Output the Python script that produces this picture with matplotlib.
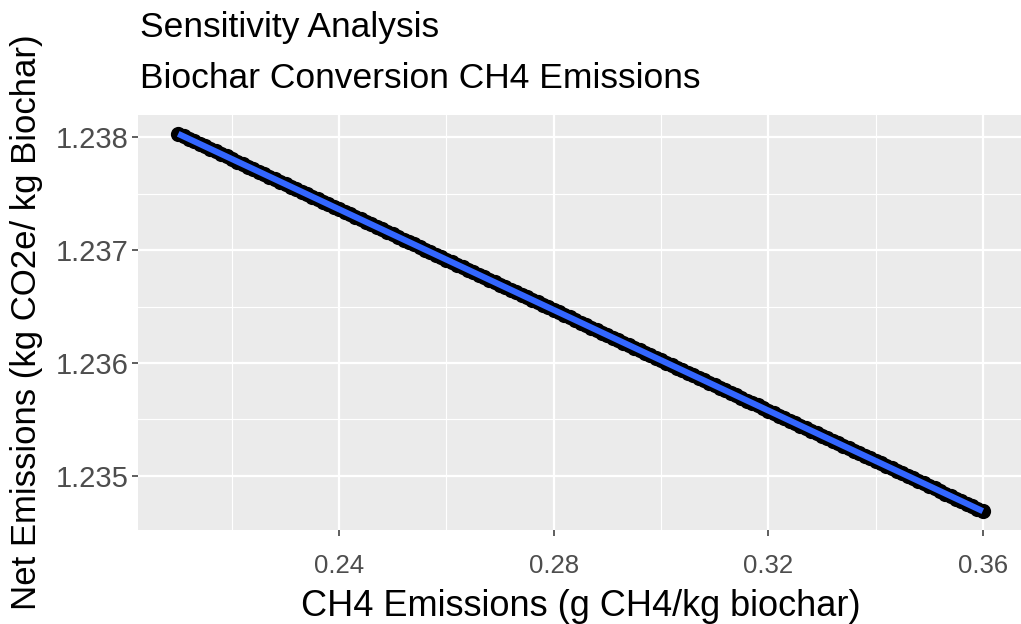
import numpy as np
import matplotlib.pyplot as plt
from matplotlib.ticker import MultipleLocator, FixedLocator

plt.rcParams["font.family"] = ["Liberation Sans", "DejaVu Sans"]

# CH4 emissions (g CH4/kg biochar)
ch4 = [0.210, 0.211, 0.212, 0.213, 0.214, 0.215, 0.216, 0.217, 0.218, 0.219,
       0.220, 0.221, 0.222, 0.223, 0.224, 0.225, 0.226, 0.227, 0.228, 0.229,
       0.230, 0.231, 0.232, 0.233, 0.234, 0.235, 0.236, 0.237, 0.238, 0.239,
       0.240, 0.241, 0.242, 0.243, 0.244, 0.245, 0.246, 0.247, 0.248, 0.249,
       0.250, 0.251, 0.252, 0.253, 0.254, 0.255, 0.256, 0.257, 0.258, 0.259,
       0.260, 0.261, 0.262, 0.263, 0.264, 0.265, 0.266, 0.267, 0.268, 0.269,
       0.270, 0.271, 0.272, 0.273, 0.274, 0.275, 0.276, 0.277, 0.278, 0.279,
       0.280, 0.281, 0.282, 0.283, 0.284, 0.285, 0.286, 0.287, 0.288, 0.289,
       0.290, 0.291, 0.292, 0.293, 0.294, 0.295, 0.296, 0.297, 0.298, 0.299,
       0.300, 0.301, 0.302, 0.303, 0.304, 0.305, 0.306, 0.307, 0.308, 0.309,
       0.310, 0.311, 0.312, 0.313, 0.314, 0.315, 0.316, 0.317, 0.318, 0.319,
       0.320, 0.321, 0.322, 0.323, 0.324, 0.325, 0.326, 0.327, 0.328, 0.329,
       0.330, 0.331, 0.332, 0.333, 0.334, 0.335, 0.336, 0.337, 0.338, 0.339,
       0.340, 0.341, 0.342, 0.343, 0.344, 0.345, 0.346, 0.347, 0.348, 0.349,
       0.350, 0.351, 0.352, 0.353, 0.354, 0.355, 0.356, 0.357, 0.358, 0.359,
       0.360]

# Net emissions (kg CO2e / kg biochar)
net = [1.238030, 1.238008, 1.237985, 1.237963, 1.237941, 1.237919, 1.237896,
       1.237874, 1.237852, 1.237830, 1.237807, 1.237785, 1.237763, 1.237740,
       1.237718, 1.237696, 1.237674, 1.237651, 1.237629, 1.237607, 1.237584,
       1.237562, 1.237540, 1.237518, 1.237495, 1.237473, 1.237451, 1.237428,
       1.237406, 1.237384, 1.237362, 1.237339, 1.237317, 1.237295, 1.237272,
       1.237250, 1.237228, 1.237206, 1.237183, 1.237161, 1.237139, 1.237117,
       1.237094, 1.237072, 1.237050, 1.237027, 1.237005, 1.236983, 1.236961,
       1.236938, 1.236916, 1.236894, 1.236871, 1.236849, 1.236827, 1.236805,
       1.236782, 1.236760, 1.236738, 1.236716, 1.236693, 1.236671, 1.236649,
       1.236626, 1.236604, 1.236582, 1.236560, 1.236537, 1.236515, 1.236493,
       1.236470, 1.236448, 1.236426, 1.236404, 1.236381, 1.236359, 1.236337,
       1.236314, 1.236292, 1.236270, 1.236248, 1.236225, 1.236203, 1.236181,
       1.236159, 1.236136, 1.236114, 1.236092, 1.236069, 1.236047, 1.236025,
       1.236003, 1.235980, 1.235958, 1.235936, 1.235913, 1.235891, 1.235869,
       1.235847, 1.235824, 1.235802, 1.235780, 1.235757, 1.235735, 1.235713,
       1.235691, 1.235668, 1.235646, 1.235624, 1.235602, 1.235579, 1.235557,
       1.235535, 1.235512, 1.235490, 1.235468, 1.235446, 1.235423, 1.235401,
       1.235379, 1.235356, 1.235334, 1.235312, 1.235290, 1.235267, 1.235245,
       1.235223, 1.235200, 1.235178, 1.235156, 1.235134, 1.235111, 1.235089,
       1.235067, 1.235045, 1.235022, 1.235000, 1.234978, 1.234955, 1.234933,
       1.234911, 1.234889, 1.234866, 1.234844, 1.234822, 1.234799, 1.234777,
       1.234755, 1.234733, 1.234710, 1.234688]

x_ticks = [0.24, 0.28, 0.32, 0.36]
y_ticks = [1.235, 1.236, 1.237, 1.238]

x = np.array(ch4)
y = np.array(net)

fig = plt.figure(figsize=(10.21, 6.24), dpi=100)
ax = fig.add_axes([138 / 1021, 1 - 530 / 624, 885 / 1021, 415 / 624])
ax.set_facecolor("#EBEBEB")

# ggplot-like expansion of 5%
xr = x.max() - x.min()
yr = y.max() - y.min()
ax.set_xlim(x.min() - 0.05 * xr, x.max() + 0.05 * xr)
ax.set_ylim(y.min() - 0.05 * yr, y.max() + 0.05 * yr)

ax.xaxis.set_major_locator(FixedLocator(x_ticks))
ax.yaxis.set_major_locator(FixedLocator(y_ticks))
ax.xaxis.set_minor_locator(MultipleLocator(0.02))
ax.yaxis.set_minor_locator(MultipleLocator(0.0005))
ax.set_xticklabels([f"{v:.2f}" for v in x_ticks])
ax.set_yticklabels([f"{v:.3f}" for v in y_ticks])

ax.grid(which="major", color="white", linewidth=1.6)
ax.grid(which="minor", color="white", linewidth=0.8)
ax.set_axisbelow(True)
for s in ax.spines.values():
    s.set_visible(False)

ax.tick_params(which="major", length=4, width=1.1, color="#333333",
               labelcolor="#4D4D4D", pad=3)
ax.tick_params(axis="y", labelsize=21)
ax.tick_params(axis="x", labelsize=18.5, pad=13)
ax.tick_params(which="minor", length=0)

ax.scatter(x, y, s=120, color="black", zorder=3, linewidths=0)

# linear fit line (geom_smooth lm)
coef = np.polyfit(x, y, 1)
ax.plot(x, np.polyval(coef, x), color="#3366FF", linewidth=4.4,
        solid_capstyle="butt", zorder=4)

ax.set_xlabel("CH4 Emissions (g CH4/kg biochar)", fontsize=26, labelpad=8)
ax.set_ylabel("Net Emissions (kg CO2e/ kg Biochar)", fontsize=25, labelpad=9)

fig.text(140 / 1021, 1 - 28 / 624, "Sensitivity Analysis", fontsize=25.5,
         ha="left", va="center")
fig.text(140 / 1021, 1 - 78 / 624, "Biochar Conversion CH4 Emissions",
         fontsize=25.5, ha="left", va="center")

fig.savefig("out.png", dpi=100)
